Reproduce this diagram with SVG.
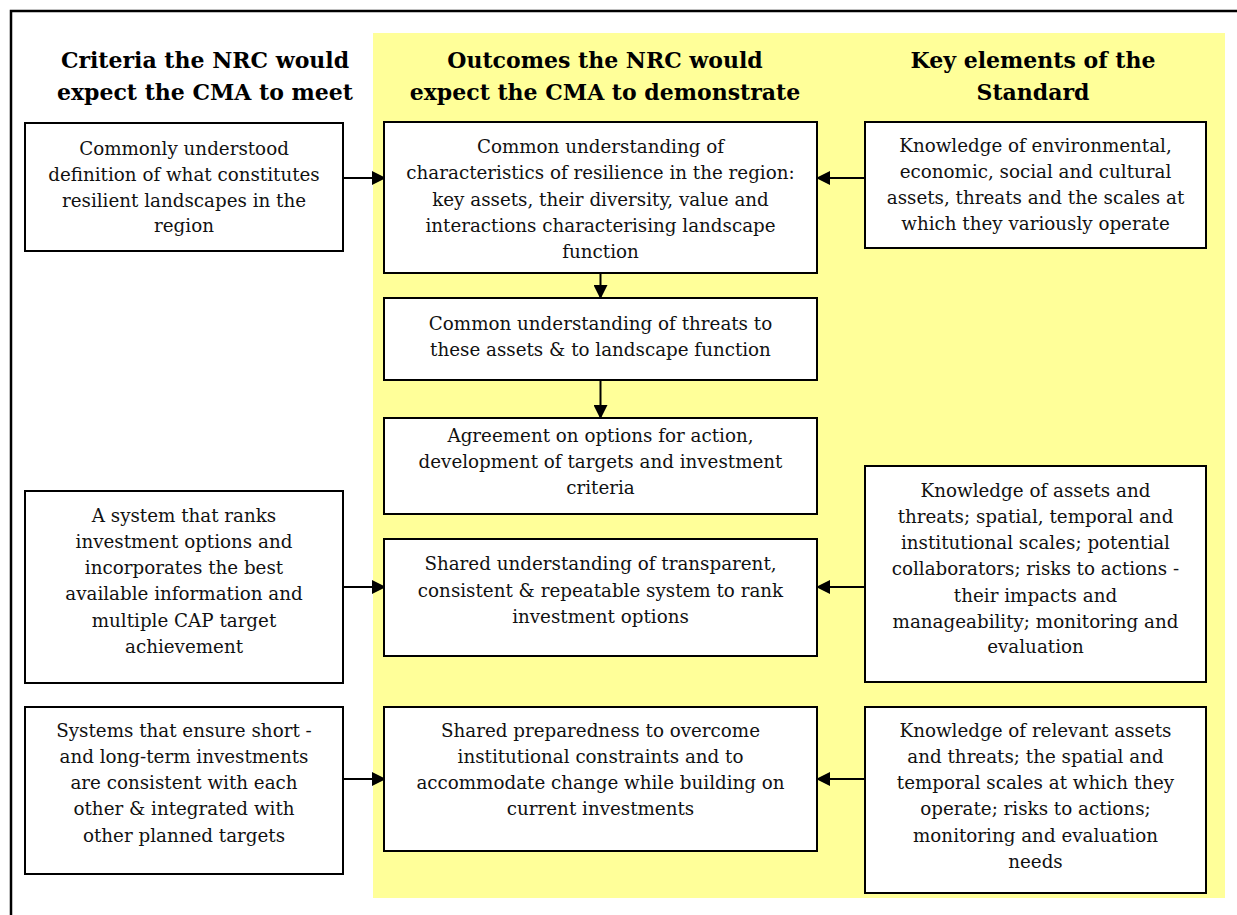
<svg xmlns="http://www.w3.org/2000/svg" width="1237" height="915" viewBox="0 0 1237 915">
<style>
.box{fill:#fff;stroke:#000;stroke-width:2}
.t{font-family:"DejaVu Serif","Liberation Serif",serif;font-size:18.3px;fill:#111;text-anchor:middle}
.h{font-family:"DejaVu Serif","Liberation Serif",serif;font-size:22px;font-weight:bold;fill:#000;text-anchor:middle}
.c{stroke:#000;stroke-width:2;fill:none;marker-end:url(#ah)}
</style>
<defs>
<marker id="ah" markerUnits="userSpaceOnUse" markerWidth="14" markerHeight="14" refX="14" refY="7" orient="auto">
<path d="M0,0 L14,7 L0,14 z" fill="#000"/>
</marker>
</defs>
<rect x="0" y="0" width="1237" height="915" fill="#fff"/>
<rect x="11" y="11" width="1250" height="930" fill="none" stroke="#000" stroke-width="2.5"/>
<rect x="373" y="33" width="852" height="865" fill="#FFFF99"/>
<g id="headers">
<text class="h" x="205" y="68">Criteria the NRC would</text>
<text class="h" x="205" y="100">expect the CMA to meet</text>
<text class="h" x="605" y="68">Outcomes the NRC would</text>
<text class="h" x="605" y="100">expect the CMA to demonstrate</text>
<text class="h" x="1033" y="68">Key elements of the</text>
<text class="h" x="1033" y="100">Standard</text>
</g>
<g id="connectors">
<line class="c" x1="343" y1="178" x2="386" y2="178"/>
<line class="c" x1="865" y1="178" x2="816" y2="178"/>
<line class="c" x1="600.5" y1="273" x2="600.5" y2="299"/>
<line class="c" x1="600.5" y1="380" x2="600.5" y2="419"/>
<line class="c" x1="343" y1="587" x2="386" y2="587"/>
<line class="c" x1="865" y1="587" x2="816" y2="587"/>
<line class="c" x1="341" y1="779" x2="386" y2="779"/>
<line class="c" x1="865" y1="779" x2="816" y2="779"/>
</g>
<g id="L1">
<rect class="box" x="25" y="123" width="318" height="128"/>
<text class="t" x="184" y="155">Commonly understood</text>
<text class="t" x="184" y="181">definition of what constitutes</text>
<text class="t" x="184" y="207">resilient landscapes in the</text>
<text class="t" x="184" y="232">region</text>
</g>
<g id="M1">
<rect class="box" x="384" y="122" width="433" height="151"/>
<text class="t" x="600.5" y="153">Common understanding of</text>
<text class="t" x="600.5" y="179">characteristics of resilience in the region:</text>
<text class="t" x="600.5" y="206">key assets, their diversity, value and</text>
<text class="t" x="600.5" y="232">interactions characterising landscape</text>
<text class="t" x="600.5" y="258">function</text>
</g>
<g id="R1">
<rect class="box" x="865" y="122" width="341" height="126"/>
<text class="t" x="1035.5" y="152">Knowledge of environmental,</text>
<text class="t" x="1035.5" y="178">economic, social and cultural</text>
<text class="t" x="1035.5" y="204">assets, threats and the scales at</text>
<text class="t" x="1035.5" y="230">which they variously operate</text>
</g>
<g id="M2">
<rect class="box" x="384" y="298" width="433" height="82"/>
<text class="t" x="600.5" y="330">Common understanding of threats to</text>
<text class="t" x="600.5" y="356">these assets &amp; to landscape function</text>
</g>
<g id="M3">
<rect class="box" x="384" y="418" width="433" height="96"/>
<text class="t" x="600.5" y="442">Agreement on options for action,</text>
<text class="t" x="600.5" y="468">development of targets and investment</text>
<text class="t" x="600.5" y="494">criteria</text>
</g>
<g id="L2">
<rect class="box" x="25" y="491" width="318" height="192"/>
<text class="t" x="184" y="522">A system that ranks</text>
<text class="t" x="184" y="548">investment options and</text>
<text class="t" x="184" y="574">incorporates the best</text>
<text class="t" x="184" y="600">available information and</text>
<text class="t" x="184" y="627">multiple CAP target</text>
<text class="t" x="184" y="653">achievement</text>
</g>
<g id="M4">
<rect class="box" x="384" y="539" width="433" height="117"/>
<text class="t" x="600.5" y="570">Shared understanding of transparent,</text>
<text class="t" x="600.5" y="597">consistent &amp; repeatable system to rank</text>
<text class="t" x="600.5" y="623">investment options</text>
</g>
<g id="R2">
<rect class="box" x="865" y="466" width="341" height="216"/>
<text class="t" x="1035.5" y="497">Knowledge of assets and</text>
<text class="t" x="1035.5" y="523">threats; spatial, temporal and</text>
<text class="t" x="1035.5" y="549">institutional scales; potential</text>
<text class="t" x="1035.5" y="575">collaborators; risks to actions -</text>
<text class="t" x="1035.5" y="602">their impacts and</text>
<text class="t" x="1035.5" y="628">manageability; monitoring and</text>
<text class="t" x="1035.5" y="653">evaluation</text>
</g>
<g id="L3">
<rect class="box" x="25" y="707" width="318" height="167"/>
<text class="t" x="184" y="737">Systems that ensure short -</text>
<text class="t" x="184" y="763">and long-term investments</text>
<text class="t" x="184" y="789">are consistent with each</text>
<text class="t" x="184" y="815">other &amp; integrated with</text>
<text class="t" x="184" y="842">other planned targets</text>
</g>
<g id="M5">
<rect class="box" x="384" y="707" width="433" height="144"/>
<text class="t" x="600.5" y="737">Shared preparedness to overcome</text>
<text class="t" x="600.5" y="763">institutional constraints and to</text>
<text class="t" x="600.5" y="789">accommodate change while building on</text>
<text class="t" x="600.5" y="815">current investments</text>
</g>
<g id="R3">
<rect class="box" x="865" y="707" width="341" height="186"/>
<text class="t" x="1035.5" y="737">Knowledge of relevant assets</text>
<text class="t" x="1035.5" y="763">and threats; the spatial and</text>
<text class="t" x="1035.5" y="789">temporal scales at which they</text>
<text class="t" x="1035.5" y="815">operate; risks to actions;</text>
<text class="t" x="1035.5" y="842">monitoring and evaluation</text>
<text class="t" x="1035.5" y="868">needs</text>
</g>
</svg>
